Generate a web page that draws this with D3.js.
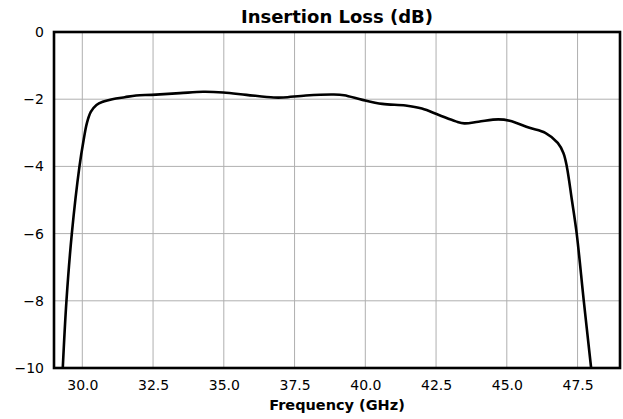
<!DOCTYPE html>
<html>
<head>
<meta charset="utf-8">
<script src="https://cdn.jsdelivr.net/npm/d3@7"></script>
<style>
  body { margin: 0; background: #fff; }
  text { font-family: "DejaVu Sans", sans-serif; fill: #000; }
</style>
</head>
<body>
<svg width="623" height="419"></svg>
<script>
// Insertion loss trace

let freq = [29.31, 29.44, 29.63, 29.9, 30.05, 30.16, 30.3, 30.5, 30.75, 31.06,
  31.5, 31.9, 32.46, 33.45, 34.27, 34.98, 35.8, 36.76, 37.1,
  37.9, 38.85, 39.25, 39.9, 40.6, 41.42, 42.0, 42.6, 43.2, 43.5,
  44.0, 44.7, 45.1, 45.8, 46.36, 46.8, 47.0, 47.12, 47.3, 47.47, 47.72, 47.98];

let loss = [-10, -8, -6, -4, -3.2, -2.72, -2.38, -2.17, -2.07, -2.0,
  -1.94, -1.89, -1.87, -1.82, -1.78, -1.8, -1.87, -1.95, -1.95,
  -1.89, -1.86, -1.88, -2.02, -2.14, -2.19, -2.28, -2.47, -2.66, -2.72,
  -2.67, -2.6, -2.64, -2.85, -3.0, -3.3, -3.6, -4, -5, -6, -8, -10];

let xTicks = [30, 32.5, 35, 37.5, 40, 42.5, 45, 47.5];
let yTicks = [0, -2, -4, -6, -8, -10];

let svg = d3.select("svg"),
  margin = { top: 32, right: 3, bottom: 51, left: 54 },
  width = +svg.attr("width") - margin.left - margin.right,
  height = +svg.attr("height") - margin.top - margin.bottom;

let x = d3.scaleLinear().domain([29, 49]).range([0, width]);
let y = d3.scaleLinear().domain([-10, 0]).range([height, 0]);

let g = svg
  .append("g")
  .attr("transform", "translate(" + margin.left + "," + margin.top + ")");

// grid
g.append("g")
  .selectAll("line")
  .data(xTicks)
  .enter()
  .append("line")
  .attr("x1", function (d) { return x(d); })
  .attr("x2", function (d) { return x(d); })
  .attr("y1", 0)
  .attr("y2", height)
  .attr("stroke", "#b0b0b0")
  .attr("stroke-width", 1);

g.append("g")
  .selectAll("line")
  .data(yTicks)
  .enter()
  .append("line")
  .attr("x1", 0)
  .attr("x2", width)
  .attr("y1", function (d) { return y(d); })
  .attr("y2", function (d) { return y(d); })
  .attr("stroke", "#b0b0b0")
  .attr("stroke-width", 1);

// axes (labels only, no tick marks)
let xAxis = g
  .append("g")
  .attr("transform", "translate(0," + height + ")")
  .call(d3.axisBottom(x).tickValues(xTicks).tickSize(0).tickPadding(12)
    .tickFormat(d3.format(".1f")));

let yAxis = g
  .append("g")
  .call(d3.axisLeft(y).tickValues(yTicks).tickSize(0).tickPadding(10)
    .tickFormat(function (d) { return d < 0 ? "\u2212" + Math.abs(d) : d; }));

[xAxis, yAxis].forEach(function (a) {
  a.select(".domain").remove();
  a.selectAll("text")
    .style("font-family", "DejaVu Sans, sans-serif")
    .style("font-size", "14px")
    .attr("fill", "#000");
});

// the trace
let line = d3
  .line()
  .x(function (d) { return x(d[0]); })
  .y(function (d) { return y(d[1]); })
  .curve(d3.curveCatmullRom.alpha(0.5));

g.append("path")
  .datum(d3.zip(freq, loss))
  .attr("fill", "none")
  .attr("stroke", "#000")
  .attr("stroke-width", 2.6)
  .attr("stroke-linejoin", "round")
  .attr("d", line);

// frame
g.append("rect")
  .attr("width", width)
  .attr("height", height)
  .attr("fill", "none")
  .attr("stroke", "#000")
  .attr("stroke-width", 2.6);

// titles
svg.append("text")
  .attr("x", margin.left + width / 2)
  .attr("y", 22.5)
  .attr("text-anchor", "middle")
  .style("font-weight", "bold")
  .style("font-size", "18px")
  .text("Insertion Loss (dB)");

svg.append("text")
  .attr("x", margin.left + width / 2)
  .attr("y", 410)
  .attr("text-anchor", "middle")
  .style("font-weight", "bold")
  .style("font-size", "14.5px")
  .text("Frequency (GHz)");
</script>
</body>
</html>
